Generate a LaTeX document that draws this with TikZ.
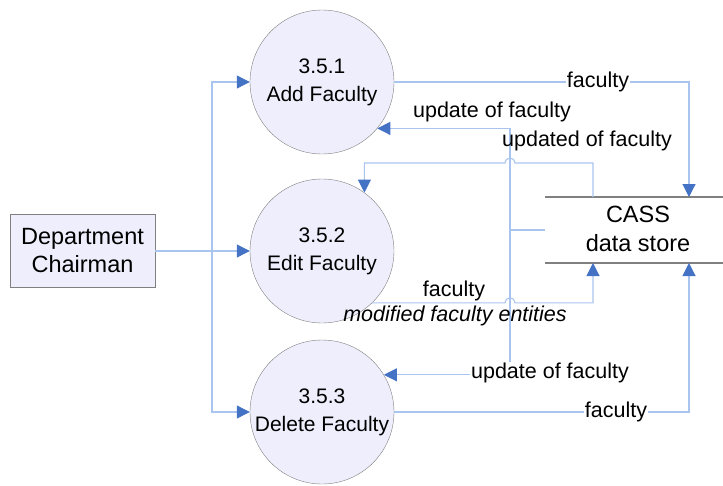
\documentclass[tikz,border=0pt]{standalone}
\usepackage{fontspec}
\setmainfont{Liberation Sans}
\usetikzlibrary{arrows.meta,calc}
\definecolor{flowline}{HTML}{A9C4EE}
\definecolor{flowhead}{HTML}{4472C4}
\definecolor{procfill}{HTML}{EEEEFC}
\definecolor{edgegray}{HTML}{808080}
\tikzset{
  proc/.style={circle,draw=edgegray,fill=procfill,minimum size=144pt,inner sep=0pt,
    align=center,font=\fontsize{21}{28}\selectfont},
  entity/.style={rectangle,draw=edgegray,fill=procfill,minimum width=145pt,minimum height=73pt,
    align=center,font=\fontsize{23.5}{28}\selectfont},
  flow/.style={draw=flowline,line width=1.1pt},
  flowarrow/.style={flow,-{Triangle[length=13pt,width=13pt,color=flowhead,fill=flowhead]}},
  lbl/.style={font=\fontsize{21.5}{24}\selectfont,inner sep=1pt},
  lblw/.style={lbl,fill=white}
}
\begin{document}
\begin{tikzpicture}[x=1pt,y=1pt]
\useasboundingbox (0,0) rectangle (723,-485);

% processes, external entity and data store
\node[proc] (c1) at (322,-82) {3.5.1\\Add Faculty};
\node[proc] (c2) at (322,-251) {3.5.2\\Edit Faculty};
\node[proc] (c3) at (322,-412) {3.5.3\\Delete Faculty};
\node[entity] (dc) at (82.5,-251) {Department\\Chairman};
\node[minimum width=178pt,minimum height=66pt,inner sep=0pt,align=center,
      font=\fontsize{23.5}{29}\selectfont] (ds) at (638,-229) {CASS\\data store};
\draw[edgegray,line width=1.1pt] (545,-197) -- (723,-197);
\draw[edgegray,line width=1.1pt] (545,-263) -- (723,-263);

% attachment points on the store edges and junctions
\coordinate (dsTa) at (593,-197);
\coordinate (dsTb) at (689,-197);
\coordinate (dsBa) at (593,-263);
\coordinate (dsBb) at (689,-263);
\coordinate (dsW) at (545,-230);
\coordinate (jd) at (212,-251);
\coordinate (ju) at (510,-230);

% chairman to the three processes
\draw[flow] (dc.east) -- (jd);
\draw[flowarrow] (jd) |- (c1.west);
\draw[flowarrow] (jd) -- (c2.west);
\draw[flowarrow] (jd) |- (c3.west);

% add faculty to store
\draw[flowarrow] (c1.east) -| (dsTb);
\node[lblw] at (598,-82) {faculty};

% store updates back to add / delete
\draw[flowarrow] (dsW) -- (ju) |- (c1.-40.7);
\draw[flowarrow] (ju) |- (c3.31);
\node[lbl] at (492,-112) {update of faculty};
\node[lblw] at (550,-373) {update of faculty};

% store to edit faculty, hopping over the vertical line
\draw[flowarrow] (dsTa) -- (593,-163) -- (515,-163) arc[start angle=0,end angle=180,radius=5]
  -| (c2.54);
\node[lbl] at (587,-141) {updated of faculty};

% edit faculty to store, hopping over the vertical line
\draw[flowarrow] (c2.-46) -- (505,-302.8) arc[start angle=180,end angle=0,radius=5] -| (dsBa);
\node[lbl] at (454,-291) {faculty};
\node[lbl,font=\fontsize{21.5}{24}\selectfont\itshape] at (455,-316) {modified faculty entities};

% delete faculty to store
\draw[flowarrow] (c3.east) -| (dsBb);
\node[lblw] at (616,-412) {faculty};
\end{tikzpicture}
\end{document}
